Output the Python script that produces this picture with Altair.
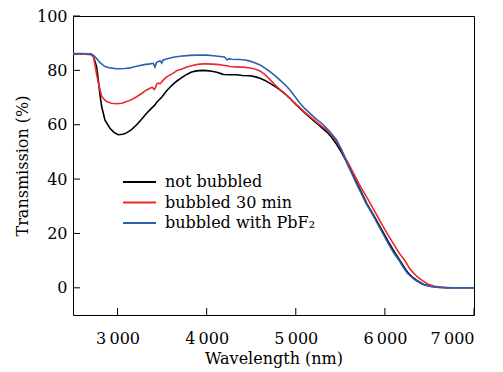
import altair as alt
import pandas as pd

# ---- data ----
series_names = ["not bubbled", "bubbled 30 min", "bubbled with PbF\u2082"]
series_colors = ["#000000", "#ec2a2c", "#2c5fb2"]

nb_wl = [2500, 2600, 2700, 2730, 2765, 2784, 2803, 2822, 2859, 2915, 2960, 3005, 3060, 3102,
         3160, 3214, 3270, 3326, 3380, 3420, 3440, 3500, 3551, 3610, 3663, 3720, 3776, 3830,
         3888, 3950, 4000, 4060, 4113, 4160, 4187, 4260, 4337, 4400, 4486, 4550, 4599, 4655,
         4711, 4770, 4823, 4880, 4935, 5000, 5047, 5120, 5193, 5270, 5346, 5400, 5458, 5510,
         5551, 5600, 5650, 5700, 5738, 5800, 5850, 5900, 5945, 6000, 6050, 6110, 6170, 6220,
         6260, 6310, 6354, 6430, 6506, 6600, 6700, 6800, 7000]
nb_t = [86, 86, 86, 85, 81.4, 76.4, 71, 66.6, 61.7, 58.7, 57.2, 56.3, 56.5, 57,
        58.3, 60, 62, 64.2, 66, 67.3, 68.3, 70.3, 72.5, 74.5, 76, 77.3, 78.5, 79.4,
        79.8, 80, 79.9, 79.7, 79.3, 78.8, 78.5, 78.4, 78.4, 78.1, 78, 77.6, 77.1, 76.3,
        75.2, 74, 72.8, 71.3, 69.7, 67.5, 66, 63.8, 61.7, 59.6, 57.4, 55.5, 52.8, 50,
        47.5, 44.3, 41, 37.6, 35, 30.8, 28, 25.2, 22.5, 19.3, 16.3, 13, 10, 7.4,
        5.5, 3.9, 2.8, 1.3, 0.6, 0.2, 0.05, 0, 0]

b30_wl = [2500, 2600, 2700, 2730, 2765, 2784, 2803, 2822, 2850, 2878, 2930, 2990, 3050, 3102,
          3160, 3214, 3270, 3326, 3364, 3390, 3410, 3425, 3439, 3456, 3480, 3512, 3551, 3625,
          3663, 3737, 3776, 3850, 3900, 3962, 4000, 4060, 4113, 4170, 4224, 4262, 4320, 4374,
          4411, 4486, 4540, 4599, 4650, 4711, 4786, 4840, 4898, 4950, 5010, 5080, 5159, 5250,
          5346, 5400, 5458, 5510, 5551, 5600, 5650, 5710, 5766, 5820, 5870, 5930, 5981, 6040,
          6100, 6160, 6226, 6270, 6320, 6370, 6410, 6480, 6560, 6650, 6750, 6850, 7000]
b30_t = [86, 86, 85.8, 85, 78.5, 75.5, 72.8, 70.5, 69.3, 68.5, 67.9, 67.7, 67.9, 68.5,
         69.3, 70.3, 71.5, 72.8, 73.4, 73.8, 73.0, 73.6, 75.0, 75.3, 75.1, 76.4, 77.6, 79.0,
         79.9, 80.7, 81.2, 81.9, 82.2, 82.4, 82.4, 82.3, 82.2, 82, 81.7, 81.4, 81.3, 81.2,
         81.2, 80.9, 80.5, 79.8, 78.5, 76.6, 74, 72.5, 70.9, 69.2, 67.3, 65.2, 63, 60.5,
         58.1, 56.3, 53.8, 51, 48.2, 45.2, 42, 38.2, 35, 32, 29, 25.5, 22.5, 19.2,
         16, 12.8, 10, 7.5, 5.5, 3.9, 2.9, 1.4, 0.6, 0.2, 0.05, 0, 0]

pbf_wl = [2500, 2600, 2700, 2729, 2765, 2803, 2859, 2915, 2990, 3028, 3080, 3140, 3200, 3252,
          3300, 3364, 3400, 3420, 3435, 3456, 3480, 3495, 3512, 3560, 3625, 3700, 3813, 3900,
          4000, 4080, 4149, 4200, 4230, 4250, 4280, 4374, 4430, 4486, 4540, 4599, 4650, 4711,
          4770, 4823, 4880, 4935, 4990, 5047, 5100, 5159, 5230, 5309, 5380, 5458, 5510, 5551,
          5600, 5650, 5690, 5730, 5790, 5840, 5890, 5935, 5990, 6040, 6100, 6160, 6210, 6250,
          6300, 6340, 6420, 6500, 6600, 6700, 7000]
pbf_t = [86.2, 86.2, 86, 85.6, 84.4, 82.8, 81.4, 80.9, 80.6, 80.6, 80.7, 80.9, 81.4, 81.8,
         82.1, 82.4, 82.6, 81.2, 82.8, 83.3, 83.5, 82.7, 83.8, 84.3, 84.8, 85.2, 85.5, 85.6,
         85.6, 85.4, 85.1, 84.9, 83.8, 84.3, 84.1, 84.0, 83.8, 83.4, 82.8, 82.0, 80.9, 79.5,
         78, 76.4, 74.7, 72.8, 70.4, 67.9, 66, 64.2, 62.1, 60, 57.5, 54.4, 51, 47.8,
         44, 40.5, 37.7, 35, 31, 28.2, 25.3, 22.5, 19.2, 16.2, 12.8, 10, 7.4, 5.5,
         3.9, 2.8, 1.3, 0.6, 0.15, 0, 0]

x_ticks = [3000, 4000, 5000, 6000, 7000]
y_ticks = [0, 20, 40, 60, 80, 100]

rows = []
for name, wl, t in [(series_names[0], nb_wl, nb_t),
                    (series_names[1], b30_wl, b30_t),
                    (series_names[2], pbf_wl, pbf_t)]:
    for i, (w, v) in enumerate(zip(wl, t)):
        rows.append({"series": name, "wavelength": w, "transmission": v, "order": i})
df = pd.DataFrame(rows)

FONT = "DejaVu Serif"
W, H = 401, 299

xscale = alt.Scale(domain=[2500, 7000], nice=False, zero=False)
yscale = alt.Scale(domain=[-10, 100], nice=False, zero=False)

lines = alt.Chart(df).mark_line(strokeWidth=1.6).encode(
    x=alt.X("wavelength:Q", scale=xscale,
            axis=alt.Axis(title="Wavelength (nm)", values=x_ticks,
                          labelExpr="replace(format(datum.value, ','), ',', '\u2009')")),
    y=alt.Y("transmission:Q", scale=yscale,
            axis=alt.Axis(title="Transmission (%)", values=y_ticks)),
    color=alt.Color("series:N",
                    scale=alt.Scale(domain=series_names, range=series_colors),
                    legend=alt.Legend(title=None, orient="none", legendX=57.5, legendY=157,
                                      symbolType="M-2.06,0H2.06", symbolSize=256,
                                      symbolStrokeWidth=2, labelFontSize=16,
                                      labelFont=FONT, labelOffset=16.5, rowPadding=3.5,
                                      padding=0, labelColor="black")),
    order="order:Q",
)

yt = alt.Chart(pd.DataFrame({"v": y_ticks})).mark_rule(color="black", strokeWidth=1).encode(
    y=alt.Y("v:Q", scale=yscale), x=alt.value(0), x2=alt.value(7))
xt = alt.Chart(pd.DataFrame({"v": x_ticks})).mark_rule(color="black", strokeWidth=1).encode(
    x=alt.X("v:Q", scale=xscale), y=alt.value(H), y2=alt.value(H - 7))

chart = alt.layer(yt, xt, lines).properties(
    width=W, height=H,
    autosize=alt.AutoSizeParams(type="none"),
    padding={"left": 73, "top": 16, "right": 29, "bottom": 57},
).configure_view(
    stroke="black", strokeWidth=1
).configure_axis(
    domain=False, ticks=False, tickSize=0, grid=False,
    labelFont=FONT, labelFontSize=16, labelColor="black",
    titleFont=FONT, titleFontSize=16, titleColor="black", titleFontWeight="normal",
).configure_axisX(
    labelPadding=15, titlePadding=4
).configure_axisY(
    labelPadding=6, titlePadding=6
)

chart.save("out.html", embed_options={"renderer": "svg", "actions": False})
